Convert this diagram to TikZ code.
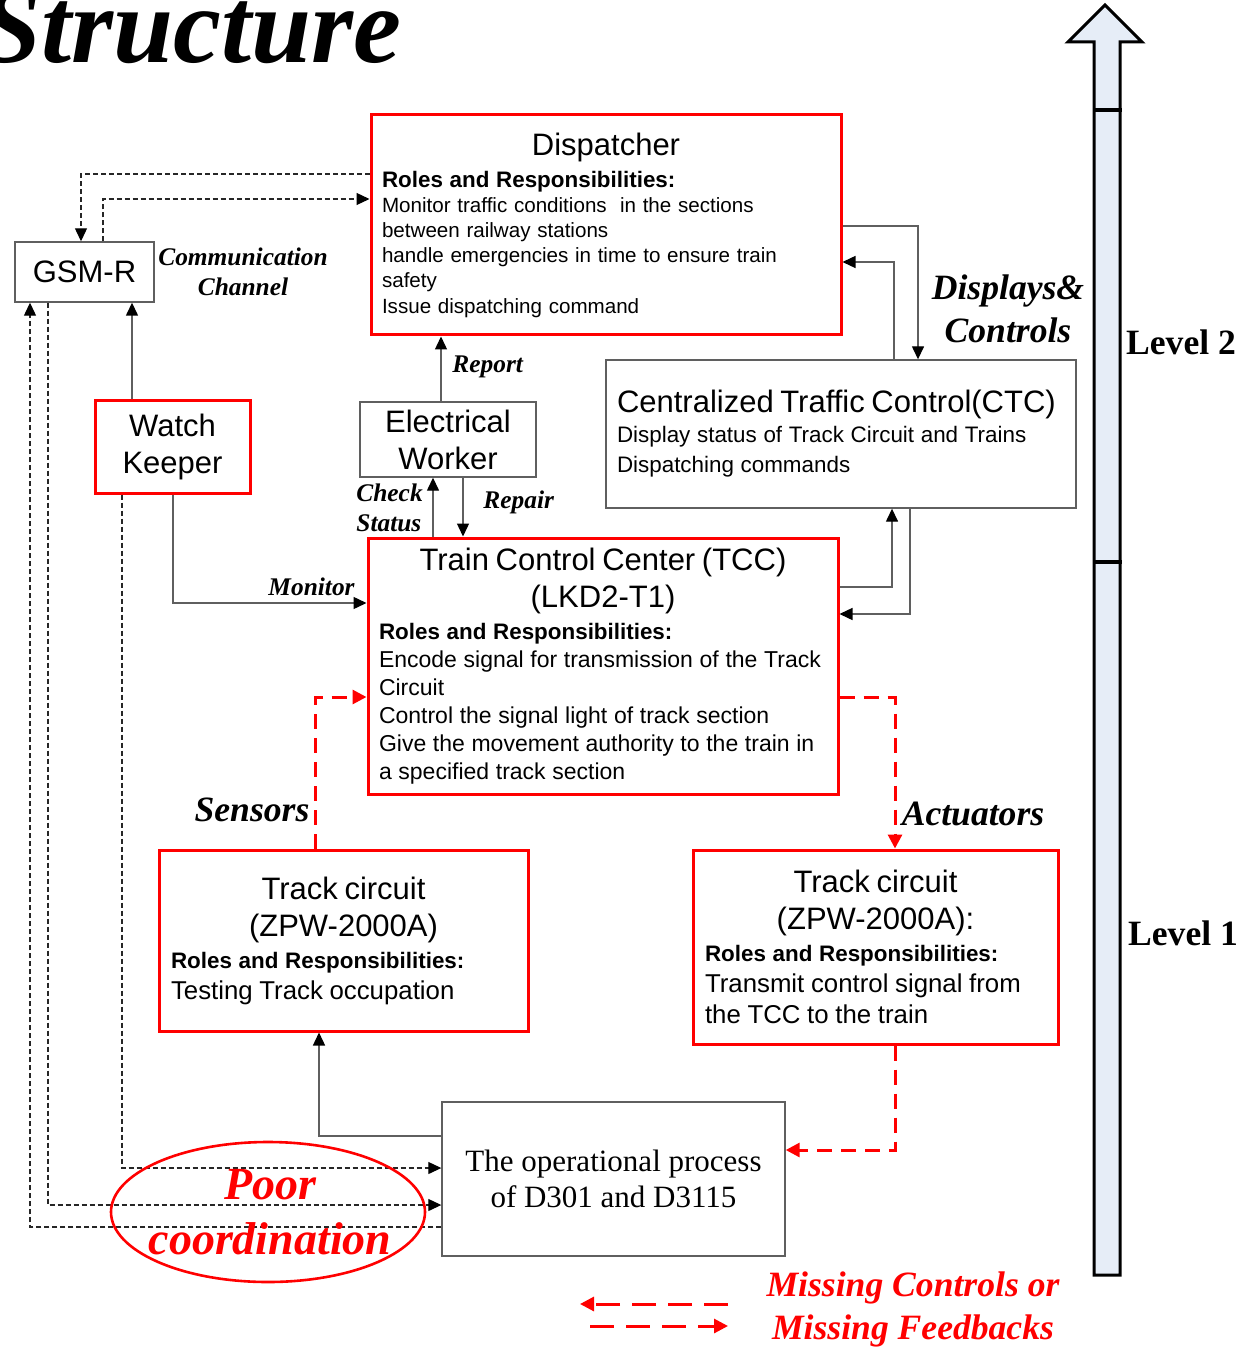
\documentclass[tikz,border=0pt]{standalone}
\usepackage{fontspec}
\setmainfont{Liberation Serif}
\setsansfont{Liberation Sans}
\usetikzlibrary{arrows.meta,positioning,shapes.geometric,calc}

\definecolor{levelblue}{RGB}{230,237,247}
\definecolor{linegray}{RGB}{95,95,95}

\newcommand{\titlefont}{\fontsize{15.5}{18.5}\selectfont}
\newcommand{\rolesfont}{\fontsize{11.2}{16}\selectfont\bfseries}

\begin{document}
\begin{tikzpicture}[
x=0.5pt, y=-0.5pt,
redbox/.style={draw=red, line width=1.5pt, rectangle, inner sep=0pt, font=\sffamily},
graybox/.style={draw=linegray, line width=0.7pt, rectangle, inner sep=0pt, font=\sffamily},
arrow/.style={draw=linegray, line width=0.7pt, -{Triangle[length=6.5pt,width=6pt,color=black]}},
dasharrow/.style={draw=black!85, line width=0.6pt, dash pattern=on 2.5pt off 1.5pt, -{Triangle[length=6.5pt,width=6pt,color=black]}},
missing/.style={draw=red, line width=1.5pt, dash pattern=on 7.5pt off 4.5pt, -{Triangle[length=7pt,width=7pt]}},
lbl/.style={font=\fontsize{12.7}{15}\selectfont\bfseries\itshape, inner sep=0pt},
biglbl/.style={font=\fontsize{17.8}{21.5}\selectfont\bfseries\itshape, inner sep=0pt}
]
\useasboundingbox (0,0) rectangle (1248,1347);

\node[anchor=base east, inner sep=0pt, font=\fontsize{54}{54}\selectfont\bfseries\itshape] (title) at (402,63) {Structure};

% level arrow
\draw[line width=1.5pt, fill=levelblue, line join=miter] (1094,1275) -- (1094,42) -- (1068,42) -- (1105,5) -- (1142,42) -- (1120,42) -- (1120,1275) -- cycle;
\draw[line width=2.2pt] (1094,110) -- (1122,110);
\draw[line width=2.2pt] (1094,562) -- (1122,562);
\node[font=\fontsize{17.8}{20}\selectfont\bfseries, inner sep=0pt] (lvltwo) at (1181,342) {Level 2};
\node[font=\fontsize{17.8}{20}\selectfont\bfseries, inner sep=0pt] (lvlone) at (1183,933) {Level 1};

% boxes
\node[redbox, minimum width=235pt, minimum height=110pt, text width=224pt, align=left] (disp) at (606,225) {%
{\titlefont\centering Dispatcher\par}
{\rolesfont Roles and Responsibilities:\par}
{\fontsize{10.3}{12.6}\selectfont Monitor traffic conditions\ \ in the sections\\
between railway stations\\
handle emergencies in time to ensure train\\
safety\\
Issue dispatching command\par}};
\node[graybox, minimum width=69.5pt, minimum height=30pt, font=\sffamily\titlefont] (gsm) at (84.5,272) {GSM-R};
\node[redbox, minimum width=77.5pt, minimum height=46pt, align=center, font=\sffamily\titlefont] (wk) at (172.5,447) {Watch\\Keeper};
\node[graybox, minimum width=88pt, minimum height=37.5pt, align=center, font=\sffamily\titlefont] (ew) at (448,439.5) {Electrical\\Worker};
\node[graybox, minimum width=235pt, minimum height=74pt, text width=224pt, align=left] (ctc) at (841,434) {%
{\titlefont Centralized Traffic Control(CTC)\par}
{\fontsize{11.2}{15}\selectfont Display status of Track Circuit and Trains\\
Dispatching commands\par}};
\node[redbox, minimum width=235pt, minimum height=128pt, text width=224pt, align=left] (tcc) at (603,666) {%
{\titlefont\centering Train Control Center (TCC)\\(LKD2-T1)\par}
{\rolesfont Roles and Responsibilities:\par}
{\fontsize{11.5}{14}\selectfont Encode signal for transmission of the Track\\
Circuit\\
Control the signal light of track section\\
Give the movement authority to the train in\\
a specified track section\par}};
\node[redbox, minimum width=184.5pt, minimum height=90.5pt, text width=172.5pt, align=left] (tcl) at (343.5,940.5) {%
{\titlefont\centering Track circuit\\(ZPW-2000A)\par}
{\rolesfont Roles and Responsibilities:\par}
{\fontsize{12.9}{15.5}\selectfont Testing Track occupation\par}};
\node[redbox, minimum width=182.5pt, minimum height=97pt, text width=170.5pt, align=left] (tcr) at (875.5,947) {%
{\titlefont\centering Track circuit\\(ZPW-2000A):\par}
{\rolesfont Roles and Responsibilities:\par}
{\fontsize{12.9}{15.5}\selectfont Transmit control signal from\\
the TCC to the train\par}};
\node[graybox, minimum width=171.5pt, minimum height=77pt, align=center, font=\rmfamily\fontsize{15.5}{18}\selectfont] (op) at (613.5,1179) {The operational process\\of D301 and D3115};

% connectors
\draw[dasharrow] (disp.west |- 0,174) -| (gsm.north -| 81,0);
\draw[dasharrow] (gsm.north -| 103,0) |- (disp.west |- 0,199);
\draw[arrow] (wk.north -| 132,0) -- (gsm.south -| 132,0);
\draw[dasharrow] (op.west |- 0,1227) -| (gsm.south -| 30,0);
\draw[dasharrow] (gsm.south -| 48,0) |- (op.west |- 0,1205);
\draw[dasharrow] (wk.south -| 122,0) |- (op.west |- 0,1168);
\draw[arrow] (wk.south -| 173,0) |- (tcc.west |- 0,603);
\draw[arrow] (ew.north -| 441,0) -- (disp.south -| 441,0);
\draw[arrow] (tcc.north -| 433,0) -- (ew.south -| 433,0);
\draw[arrow] (ew.south -| 463,0) -- (tcc.north -| 463,0);
\draw[arrow] (disp.east |- 0,226) -| (ctc.north -| 918,0);
\draw[arrow] (ctc.north -| 894,0) |- (disp.east |- 0,262);
\draw[arrow] (tcc.east |- 0,587) -| (ctc.south -| 892,0);
\draw[arrow] (ctc.south -| 910,0) |- (tcc.east |- 0,614);
\draw[missing] (tcl.north -| 315,0) |- (tcc.west |- 0,697);
\draw[missing] (tcc.east |- 0,697) -| (tcr.north -| 895,0);
\draw[missing] (tcr.south -| 895,0) |- (op.east |- 0,1150);
\draw[arrow] (op.west |- 0,1136) -| (tcl.south -| 319,0);

% labels
\node[lbl, align=center] (commlbl) at (243,272) {Communication\\Channel};
\node[lbl, anchor=west] (reportlbl) at (452,367) {Report};
\node[lbl, anchor=west, align=left] (checklbl) at (356,508) {Check\\Status};
\node[lbl, anchor=west] (repairlbl) at (483,502) {Repair};
\node[lbl, anchor=east] (monitorlbl) at (355,587) {Monitor};
\node[biglbl, align=center] (displbl) at (1008,309) {Displays\&\\Controls};
\node[biglbl] (sensorlbl) at (252,810) {Sensors};
\node[biglbl] (actlbl) at (973,814) {Actuators};

% poor coordination
\node[ellipse, draw=red, line width=1.3pt, minimum width=157pt, minimum height=70pt, inner sep=0pt] (poor) at (268,1212) {};
\node[text=red, align=center, inner sep=0pt, font=\fontsize{23}{27.5}\selectfont\bfseries\itshape] (poortext) at (270,1212) {Poor\\coordination};

% legend
\coordinate (legA) at (728,1304);
\coordinate (legB) at (580,1304);
\coordinate (legC) at (590,1326);
\coordinate (legD) at (728,1326);
\draw[missing, dash pattern=on 12pt off 6pt] (legA) -- (legB);
\draw[missing, dash pattern=on 12pt off 6pt] (legC) -- (legD);
\node[biglbl, text=red, align=center] (leglbl) at (913,1309) {Missing Controls or\\Missing Feedbacks};
\end{tikzpicture}
\end{document}
